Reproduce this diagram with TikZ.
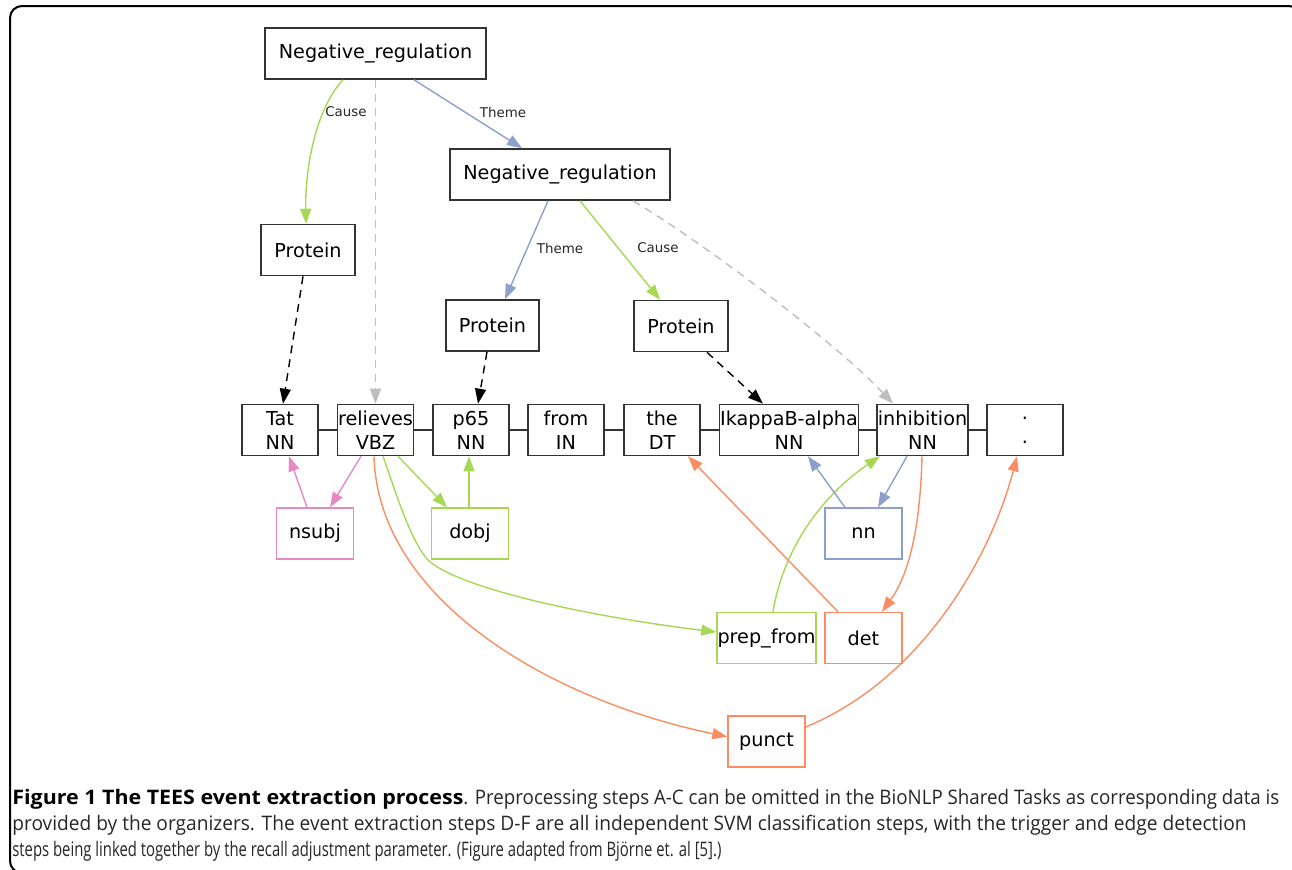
\documentclass[tikz,border=0pt]{standalone}
\usepackage{fontspec}
\setmainfont{DejaVu Sans}
\newfontfamily\capfont{Open Sans}
\usetikzlibrary{arrows.meta}
\definecolor{cgreen}{HTML}{A6D854}
\definecolor{cblue}{HTML}{8DA0CB}
\definecolor{corange}{HTML}{FC8D62}
\definecolor{cpink}{HTML}{E78AC3}
\definecolor{cgray}{HTML}{BEBEBE}
\definecolor{boxline}{HTML}{333333}
\tikzset{
  box/.style={draw=boxline, line width=0.8pt, minimum height=25.5pt, inner sep=0pt,
    font=\fontsize{9.6}{12}\selectfont, text=black, align=center},
  tok/.style={box, minimum width=38pt},
  dep/.style={box, minimum width=38.5pt, line width=0.7pt},
  lbl/.style={font=\fontsize{6.7}{8}\selectfont, text=black!85, inner sep=0pt},
  ed/.style={-{Triangle[length=7.5pt,width=5.5pt]}, line width=0.7pt},
  dsh/.style={ed, dash pattern=on 4pt off 3pt},
  capline/.style={anchor=base west, inner sep=0pt, text=black!85}
}
\begin{document}
\begin{tikzpicture}[x=0.5pt,y=-0.5pt]
\useasboundingbox (0,0) rectangle (1292,869);
\draw[line width=1pt, rounded corners=6pt] (10,6) rectangle (1301,873);

% event nodes
\node[box, minimum width=110.5pt] (nr1) at (375.5,53.5) {Negative\_regulation};
\node[box, minimum width=110pt] (nr2) at (560,174.5) {Negative\_regulation};
\node[box, minimum width=47pt] (p1) at (308,250) {Protein};
\node[box, minimum width=46.5pt] (p2) at (492.5,325.5) {Protein};
\node[box, minimum width=47pt] (p3) at (681,326) {Protein};

% tokens
\node[tok] (tat) at (280,430) {Tat\\NN};
\node[tok] (rel) at (375.5,430) {relieves\\VBZ};
\node[tok] (p65) at (471,430) {p65\\NN};
\node[tok] (from) at (566,430) {from\\IN};
\node[tok] (the) at (662,430) {the\\DT};
\node[tok, minimum width=69.5pt] (ikb) at (789,430) {IkappaB-alpha\\NN};
\node[tok, minimum width=45.5pt] (inh) at (922.5,430) {inhibition\\NN};
\node[tok] (dot) at (1025,430) {.\\.};

\draw[line width=0.8pt, boxline] (tat.east) -- (rel.west);
\draw[line width=0.8pt, boxline] (rel.east) -- (p65.west);
\draw[line width=0.8pt, boxline] (p65.east) -- (from.west);
\draw[line width=0.8pt, boxline] (from.east) -- (the.west);
\draw[line width=0.8pt, boxline] (the.east) -- (ikb.west);
\draw[line width=0.8pt, boxline] (ikb.east) -- (inh.west);
\draw[line width=0.8pt, boxline] (inh.east) -- (dot.west);

% dependency nodes
\node[dep, draw=cpink] (nsubj) at (315,533.5) {nsubj};
\node[dep, draw=cgreen] (dobj) at (470,533.5) {dobj};
\node[dep, draw=cblue] (nn) at (863.5,533.5) {nn};
\node[dep, draw=cgreen, minimum width=49.5pt] (prepf) at (766.5,638) {prep\_from};
\node[dep, draw=corange] (det) at (863.5,638) {det};
\node[dep, draw=corange] (punct) at (766.5,741.5) {punct};

% event edges
\draw[ed, cgreen] ([xshift=-16.25pt]nr1.south) .. controls (315,110) and (305,170) .. ([xshift=-1pt]p1.north);
\node[lbl] (l1) at (346,112) {Cause};
\draw[dsh, cgray] (nr1.south) -- (rel.north);
\draw[ed, cblue] ([xshift=19.25pt]nr1.south) -- ([xshift=-19pt]nr2.north);
\node[lbl] (l2) at (503,112) {Theme};
\draw[ed, cblue] ([xshift=-6pt]nr2.south) -- ([xshift=6.25pt]p2.north);
\node[lbl] (l3) at (560,248) {Theme};
\draw[ed, cgreen] ([xshift=10pt]nr2.south) -- ([xshift=-10.5pt]p3.north);
\node[lbl] (l4) at (658,248) {Cause};
\draw[dsh, cgray] ([xshift=36.5pt]nr2.south) .. controls (715,250) and (843,350) .. ([xshift=-14.75pt]inh.north);

% protein to token
\draw[dsh, black] ([xshift=-2.5pt]p1.south) -- ([xshift=1.5pt]tat.north);
\draw[dsh, black] ([xshift=-2.75pt]p2.south) -- ([xshift=3.5pt]p65.north);
\draw[dsh, black] ([xshift=13pt]p3.south) -- ([xshift=-13pt]ikb.north);

% dependency edges
\draw[ed, cpink] ([xshift=-7.25pt]rel.south) -- ([xshift=7.5pt]nsubj.north);
\draw[ed, cpink] ([xshift=-4pt]nsubj.north) -- ([xshift=4.5pt]tat.south);
\draw[ed, cgreen] ([xshift=11.25pt]rel.south) -- ([xshift=-11.5pt]dobj.north);
\draw[ed, cgreen] ([xshift=-0.5pt]dobj.north) -- ([xshift=-1pt]p65.south);
\draw[ed, cgreen] ([xshift=3.75pt]rel.south) .. controls (395,490) and (410,540) .. (428,560)
   .. controls (460,590) and (600,618) .. ([yshift=3pt]prepf.west);
\draw[ed, cgreen] ([xshift=3.25pt]prepf.north) .. controls (785,540) and (830,490) .. ([xshift=-21.25pt]inh.south);
\draw[ed, corange] ([xshift=-12.75pt]det.north) -- ([xshift=13pt]the.south);
\draw[ed, corange] ([xshift=-0.25pt]inh.south) .. controls (920,540) and (905,580) .. ([xshift=9.25pt]det.north);
\draw[ed, cblue] ([xshift=-7.75pt]inh.south) -- ([xshift=7.25pt]nn.north);
\draw[ed, cblue] ([xshift=-9.25pt]nn.north) -- ([xshift=9.5pt]ikb.south);
\draw[ed, corange] ([xshift=-0.75pt]rel.south) .. controls (378,600) and (550,700) .. ([yshift=2.4pt]punct.west);
\draw[ed, corange] ([yshift=7.25pt]punct.east) .. controls (920,680) and (990,560) .. ([xshift=-4pt]dot.south);

% caption
\node[capline] (cap1a) at (12,804) {\resizebox{225.5pt}{\height}{\capfont\fontsize{10}{12}\selectfont\bfseries\color{black}Figure 1 The TEES event extraction process}};
\node[capline] (cap1b) at (463,804) {\resizebox{408pt}{\height}{\capfont\fontsize{10}{12}\selectfont . Preprocessing steps A-C can be omitted in the BioNLP Shared Tasks as corresponding data is}};
\node[capline] (cap2) at (12,830) {\resizebox{617pt}{\height}{\capfont\fontsize{10}{12}\selectfont provided by the organizers. The event extraction steps D-F are all independent SVM classification steps, with the trigger and edge detection}};
\node[capline] (cap3) at (12,856) {\resizebox{354.5pt}{\height}{\capfont\fontsize{10}{12}\selectfont steps being linked together by the recall adjustment parameter. (Figure adapted from Bj\"orne et. al [5].)}};
\end{tikzpicture}
\end{document}
